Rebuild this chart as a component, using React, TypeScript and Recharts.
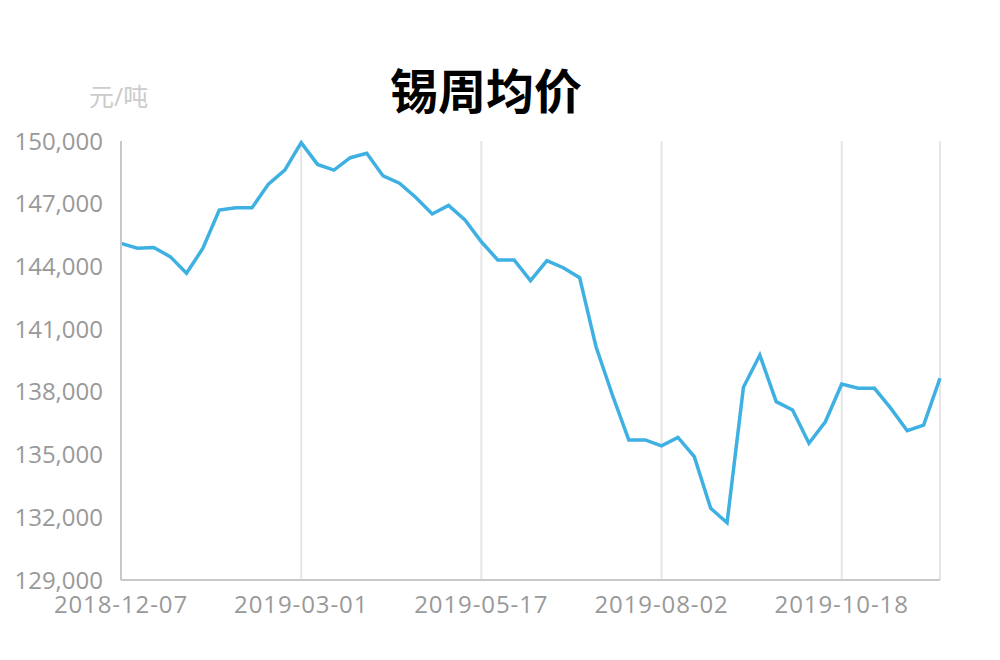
import React from 'react';
import { LineChart, Line, XAxis, YAxis, CartesianGrid } from 'recharts';

const dates = [
  '2018-12-07', '2018-12-14', '2018-12-21', '2018-12-28', '2019-01-04',
  '2019-01-11', '2019-01-18', '2019-01-25', '2019-02-01', '2019-02-15',
  '2019-02-22', '2019-03-01', '2019-03-08', '2019-03-15', '2019-03-22',
  '2019-03-29', '2019-04-05', '2019-04-12', '2019-04-19', '2019-04-26',
  '2019-05-03', '2019-05-10', '2019-05-17', '2019-05-24', '2019-05-31',
  '2019-06-07', '2019-06-14', '2019-06-21', '2019-06-28', '2019-07-05',
  '2019-07-12', '2019-07-19', '2019-07-26', '2019-08-02', '2019-08-09',
  '2019-08-16', '2019-08-23', '2019-08-30', '2019-09-06', '2019-09-13',
  '2019-09-20', '2019-09-27', '2019-10-04', '2019-10-11', '2019-10-18',
  '2019-10-25', '2019-11-01', '2019-11-08', '2019-11-15', '2019-11-22',
  '2019-11-29',
];

const prices = [
  145100, 144870, 144910, 144470, 143670, 144870, 146700, 146810, 146810, 147940,
  148610, 149920, 148880, 148610, 149200, 149410, 148330, 147980, 147300, 146510,
  146920, 146220, 145180, 144310, 144310, 143320, 144280, 143940, 143460, 140160,
  137850, 135700, 135700, 135420, 135820, 134900, 132430, 131740, 138220, 139760,
  137530, 137130, 135540, 136570, 138370, 138170, 138170, 137210, 136140, 136410,
  138650,
];

const yTicks = [129000, 132000, 135000, 138000, 141000, 144000, 147000, 150000];

const data = dates.map((date, i) => ({ date, price: prices[i] }));

const font = '"Open Sans", "Noto Sans CJK SC", sans-serif';

export default function App() {
  return (
    <div style={{ position: 'absolute', left: 0, top: 0, width: 1000, height: 660, background: '#fff' }}>
      <div
        style={{
          position: 'absolute',
          left: 0,
          width: 972,
          top: 58,
          textAlign: 'center',
          fontFamily: '"Noto Sans CJK SC", sans-serif',
          fontWeight: 700,
          fontSize: 48,
          lineHeight: '60px',
          color: '#000',
        }}
      >
        锡周均价
      </div>
      <div
        style={{
          position: 'absolute',
          left: 89,
          top: 81,
          fontFamily: font,
          fontSize: 25,
          lineHeight: '30px',
          color: '#cccccc',
        }}
      >
        元/吨
      </div>
      <LineChart
        width={1000}
        height={660}
        data={data}
        margin={{ top: 141, right: 60, left: 0, bottom: 0 }}
      >
        <CartesianGrid horizontal={false} stroke="#e6e6e6" strokeWidth={2} />
        <XAxis
          dataKey="date"
          interval={10}
          height={80}
          tickLine={false}
          tickMargin={10}
          axisLine={{ stroke: '#c8c8c8', strokeWidth: 2 }}
          tick={{ fill: '#999', fontSize: 24, fontFamily: font, letterSpacing: 0.9 }}
        />
        <YAxis
          width={121}
          domain={[129000, 150000]}
          ticks={yTicks}
          tickLine={false}
          tickMargin={12}
          axisLine={{ stroke: '#c8c8c8', strokeWidth: 2 }}
          tick={{ fill: '#999', fontSize: 24, fontFamily: font }}
          tickFormatter={(v: number) => v.toLocaleString('en-US')}
        />
        <Line
          type="linear"
          dataKey="price"
          stroke="#3eb0e2"
          strokeWidth={3.5}
          dot={false}
          isAnimationActive={false}
        />
      </LineChart>
    </div>
  );
}
